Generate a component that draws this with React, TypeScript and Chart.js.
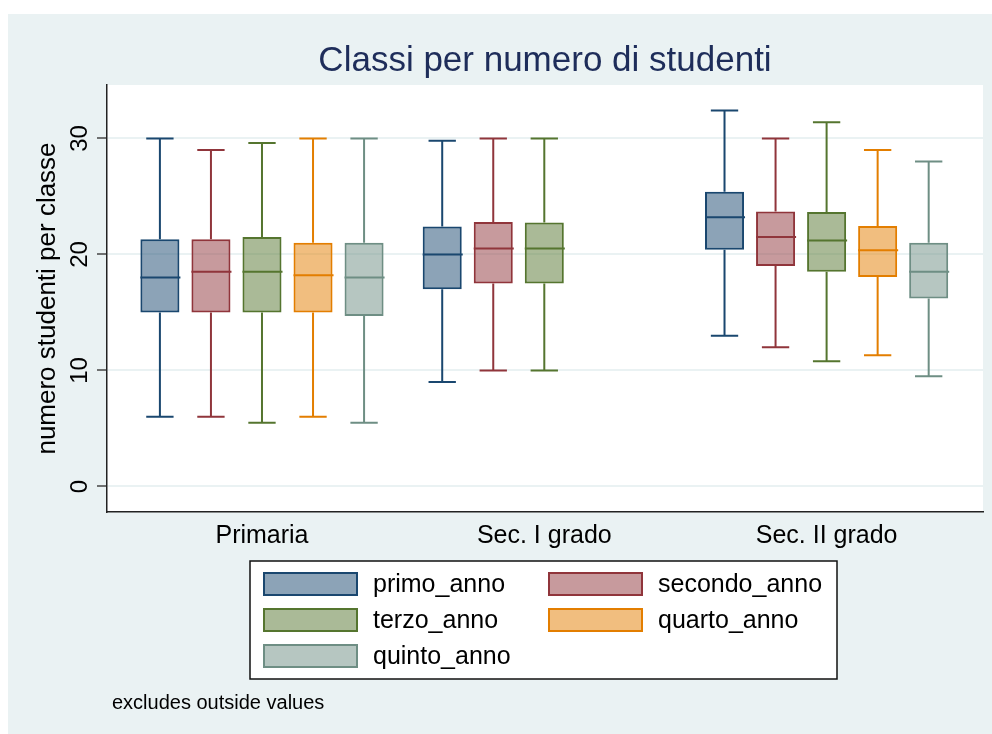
import React, { useEffect, useRef } from 'react';
import { Chart, registerables } from 'chart.js';

Chart.register(...registerables);

// ---------- data ----------
const categories = ['Primaria', 'Sec. I grado', 'Sec. II grado'];
const seriesLabels = ['primo_anno', 'secondo_anno', 'terzo_anno', 'quarto_anno', 'quinto_anno'];
// each entry: [lower adjacent, q1, median, q3, upper adjacent] per category (null = no data)
const primoAnno = [[6, 15, 18, 21.3, 30], [9, 17, 20, 22.4, 29.8], [13, 20.4, 23.2, 25.4, 32.4]];
const secondoAnno = [[6, 15, 18.5, 21.3, 29], [10, 17.5, 20.5, 22.8, 30], [12, 19, 21.5, 23.7, 30]];
const terzoAnno = [[5.5, 15, 18.5, 21.5, 29.6], [10, 17.5, 20.5, 22.75, 30], [10.8, 18.5, 21.2, 23.65, 31.4]];
const quartoAnno = [[6, 15, 18.2, 21, 30], null, [11.3, 18.05, 20.35, 22.45, 29]];
const quintoAnno = [[5.5, 14.7, 18, 21, 30], null, [9.5, 16.2, 18.5, 21, 28]];
const yTicks = [0, 10, 20, 30];
const chartTitle = 'Classi per numero di studenti';
const yTitle = 'numero studenti per classe';
const noteText = 'excludes outside values';

// ---------- styles ----------
const lineColors = ['#1A476F', '#90353B', '#55752F', '#E37E00', '#6E8E84'];
const fillColors = [
  'rgba(26,71,111,0.5)',
  'rgba(144,53,59,0.5)',
  'rgba(85,117,47,0.5)',
  'rgba(227,126,0,0.5)',
  'rgba(110,142,132,0.5)',
];
const FONT = '"Liberation Sans", Arial, Helvetica, sans-serif';
const BG = '#EAF2F3';

const allStats = [primoAnno, secondoAnno, terzoAnno, quartoAnno, quintoAnno];

const backgroundPlugin = {
  id: 'stataBackground',
  beforeDraw(chart: any) {
    const { ctx, chartArea } = chart;
    ctx.save();
    ctx.fillStyle = BG;
    ctx.fillRect(0, 0, chart.width, chart.height);
    ctx.fillStyle = '#FFFFFF';
    ctx.fillRect(chartArea.left, chartArea.top, chartArea.right - chartArea.left, chartArea.bottom - chartArea.top);
    ctx.restore();
  },
};

const whiskerPlugin = {
  id: 'whiskers',
  afterDatasetsDraw(chart: any) {
    const { ctx } = chart;
    const y = chart.scales.y;
    chart.data.datasets.forEach((ds: any, di: number) => {
      const meta = chart.getDatasetMeta(di);
      meta.data.forEach((el: any, j: number) => {
        const s = ds.stats[j];
        if (!s) return;
        const { x, width } = el.getProps(['x', 'width'], true);
        const half = width / 2;
        const cap = width * 0.35;
        const pMin = y.getPixelForValue(s[0]);
        const pQ1 = y.getPixelForValue(s[1]);
        const pMed = y.getPixelForValue(s[2]);
        const pQ3 = y.getPixelForValue(s[3]);
        const pMax = y.getPixelForValue(s[4]);
        ctx.save();
        ctx.strokeStyle = ds.borderColor;
        ctx.lineWidth = 2;
        ctx.beginPath();
        ctx.moveTo(x, pQ3);
        ctx.lineTo(x, pMax);
        ctx.moveTo(x - cap, pMax);
        ctx.lineTo(x + cap, pMax);
        ctx.moveTo(x, pQ1);
        ctx.lineTo(x, pMin);
        ctx.moveTo(x - cap, pMin);
        ctx.lineTo(x + cap, pMin);
        ctx.moveTo(x - half, pMed);
        ctx.lineTo(x + half + 1, pMed);
        ctx.stroke();
        ctx.restore();
      });
    });
  },
};

const legendPlugin = {
  id: 'boxLegend',
  afterDraw(chart: any) {
    const { ctx } = chart;
    const boxL = 242, boxT = 547, boxW = 587, boxH = 118;
    ctx.save();
    ctx.fillStyle = '#FFFFFF';
    ctx.fillRect(boxL, boxT, boxW, boxH);
    ctx.strokeStyle = '#111111';
    ctx.lineWidth = 1.5;
    ctx.strokeRect(boxL, boxT, boxW, boxH);
    const colX = [255, 540];
    const rowY = [570, 606, 642];
    ctx.font = `25px ${FONT}`;
    ctx.textBaseline = 'middle';
    ctx.textAlign = 'left';
    chart.data.datasets.forEach((ds: any, i: number) => {
      const cx = colX[i % 2];
      const cy = rowY[Math.floor(i / 2)];
      ctx.fillStyle = '#FFFFFF';
      ctx.fillRect(cx, cy - 12, 95, 24);
      ctx.fillStyle = ds.backgroundColor;
      ctx.fillRect(cx, cy - 12, 95, 24);
      ctx.strokeStyle = ds.borderColor;
      ctx.lineWidth = 2;
      ctx.strokeRect(cx + 1, cy - 11, 93, 22);
      ctx.fillStyle = '#000000';
      ctx.fillText(ds.label, cx + 110, cy + 1);
    });
    ctx.font = `20px ${FONT}`;
    ctx.fillText(noteText, 104, 689);
    ctx.restore();
  },
};

export default function App() {
  const canvasRef = useRef<HTMLCanvasElement | null>(null);

  useEffect(() => {
    if (!canvasRef.current) return;
    Chart.defaults.font.family = FONT;
    const datasets = allStats.map((st, k) => {
      const idx = categories.map((_, i) => i).filter((i) => st[i]);
      return {
        label: seriesLabels[k],
        data: idx.map((i) => ({ x: i, y: [(st[i] as number[])[1], (st[i] as number[])[3]] })),
        stats: idx.map((i) => st[i]),
        backgroundColor: fillColors[k],
        borderColor: lineColors[k],
        borderWidth: 2,
        borderSkipped: false,
        barPercentage: 0.765,
        categoryPercentage: 0.904,
      };
    });

    const chart = new Chart(canvasRef.current, {
      type: 'bar',
      data: { datasets: datasets as any },
      options: {
        animation: false,
        responsive: false,
        events: [],
        layout: { padding: { left: 0, right: 9, top: 0, bottom: 0 } },
        plugins: {
          legend: { display: false },
          tooltip: { enabled: false },
          title: {
            display: true,
            text: chartTitle,
            fullSize: false,
            color: '#1E2D5A',
            font: { size: 35, weight: 'normal', family: FONT },
            padding: { top: 26, bottom: 3 },
          },
        },
        scales: {
          x: {
            type: 'linear',
            min: -0.549,
            max: 2.554,
            offset: false,
            afterBuildTicks: (scale: any) => {
              scale.ticks = categories.map((_, i) => ({ value: i }));
            },
            afterFit: (scale: any) => {
              scale.height = 222;
            },
            ticks: {
              color: '#000000',
              font: { size: 25, family: FONT },
              padding: 9,
              maxRotation: 0,
              autoSkip: false,
              callback: (v: any) => categories[v as number] ?? '',
            },
            grid: { display: false, drawTicks: false },
            border: { display: true, color: '#222222', width: 1.5 },
          },
          y: {
            type: 'linear',
            min: -2.2,
            max: 34.6,
            afterBuildTicks: (scale: any) => {
              scale.ticks = yTicks.map((v) => ({ value: v }));
            },
            afterFit: (scale: any) => {
              scale.width = 99;
            },
            ticks: {
              color: '#000000',
              font: { size: 24, family: FONT },
              padding: 3,
              minRotation: 90,
              maxRotation: 90,
              crossAlign: 'center',
              autoSkip: false,
            },
            grid: {
              color: BG,
              lineWidth: 2,
              tickColor: '#444444',
              tickLength: 10,
              tickWidth: 1.5,
            },
            border: { display: true, color: '#222222', width: 1.5 },
            title: {
              display: true,
              text: yTitle,
              color: '#000000',
              font: { size: 26, family: FONT },
              padding: { top: 24, bottom: 0 },
            },
          },
        },
      } as any,
      plugins: [backgroundPlugin, whiskerPlugin, legendPlugin],
    });
    return () => chart.destroy();
  }, []);

  return (
    <div style={{ position: 'absolute', left: 8, top: 14, width: 984, height: 720 }}>
      <canvas ref={canvasRef} width={984} height={720} style={{ display: 'block' }} />
    </div>
  );
}
